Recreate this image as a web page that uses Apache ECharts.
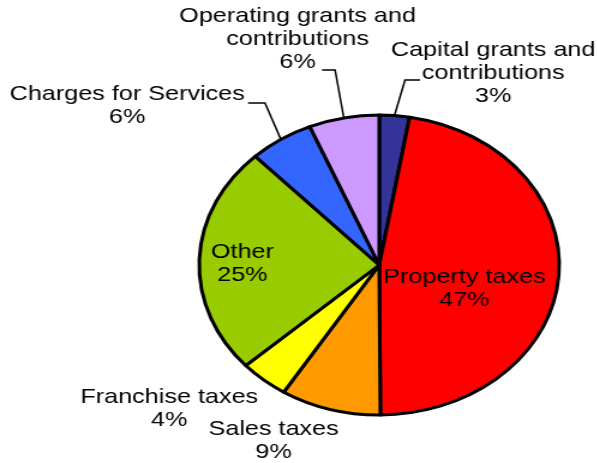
<!DOCTYPE html>
<html>
<head>
<meta charset="utf-8">
<script src="https://cdn.jsdelivr.net/npm/echarts@6/dist/echarts.min.js"></script>
<style>
html, body { margin: 0; padding: 0; background: #fff; overflow: hidden; }
/* the original picture is stretched sideways by about 1.2 */
#main { position: absolute; left: 0; top: 0; width: 498px; height: 463px; transform: scaleX(1.2); transform-origin: 0 0; }
</style>
</head>
<body>
<div id="main"></div>
<script>
var categories = ['Capital grants and\ncontributions', 'Property taxes', 'Sales taxes', 'Franchise taxes',
                  'Other', 'Charges for Services', 'Operating grants and\ncontributions'];
var values = [2.7, 47.2, 9.0, 4.4, 24.6, 5.8, 6.3];
var colors = ['#333399', '#FF0000', '#FF9900', '#FFFF00', '#99CC00', '#3366FF', '#CC99FF'];

// where each label sits (centre of text block) and leader line bend/end, in unstretched px
var labelPos = [[411, 73], [387, 289], [228, 441], [141, 409], [202, 264], [106, 106], [248, 39]];
var leader = {
    0: [[337.5, 80], [350, 80]],
    5: [[220.8, 103], [206.7, 103]],
    6: [[279.2, 70], [268.3, 70]]
};

var cx = 316, cy = 265, r = 150;
var total = values.reduce(function (a, b) { return a + b; }, 0);

function edgePoint(idx) {
    var before = 0;
    for (var i = 0; i < idx; i++) before += values[i];
    var a = (before + values[idx] / 2) / total * Math.PI * 2;
    return [cx + r * Math.sin(a), cy - r * Math.cos(a)];
}

var dom = document.getElementById('main');
var myChart = echarts.init(dom);

var data = categories.map(function (name, i) {
    return {
        name: name,
        value: values[i],
        itemStyle: { color: colors[i] },
        labelLine: { show: !!leader[i] }
    };
});

var option = {
    animation: false,
    series: [{
        type: 'pie',
        center: [cx, cy],
        radius: r,
        startAngle: 90,
        clockwise: true,
        avoidLabelOverlap: false,
        data: data,
        itemStyle: { borderColor: '#000', borderWidth: 3 },
        label: {
            show: true,
            color: '#000',
            fontFamily: 'Liberation Sans, Arial, sans-serif',
            fontSize: 21,
            lineHeight: 23,
            align: 'center',
            formatter: function (p) { return p.name + '\n' + Math.round(p.percent) + '%'; }
        },
        labelLine: { show: true, lineStyle: { color: '#000', width: 1.5 } },
        labelLayout: function (p) {
            var i = p.dataIndex;
            var res = { x: labelPos[i][0], y: labelPos[i][1], align: 'center', verticalAlign: 'middle' };
            if (leader[i]) {
                res.labelLinePoints = [edgePoint(i), leader[i][0], leader[i][1]];
            }
            return res;
        },
        emphasis: { disabled: true }
    }]
};

myChart.setOption(option);
</script>
</body>
</html>
